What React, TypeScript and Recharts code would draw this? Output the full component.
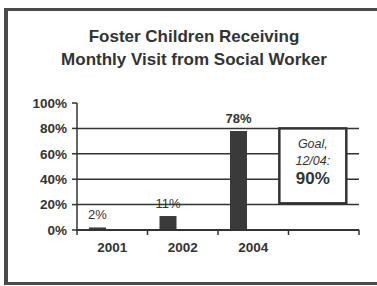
import React from 'react';
import { BarChart, Bar, XAxis, YAxis, CartesianGrid, LabelList, ReferenceArea } from 'recharts';

const TITLE_LINES = ['Foster Children Receiving', 'Monthly Visit from Social Worker'];
const CATEGORIES = ['2001', '2002', '2004', ' '];
const VISIT_PCT: (number | null)[] = [2, 11, 78, null];
const SPACER: (number | null)[] = [null, null, null, null];
const Y_TICKS = [0, 20, 40, 60, 80, 100];
const GRID_VALUES = [20, 40, 60, 80];
const GOAL_CATEGORY = ' ';
const GOAL_LINES = ['Goal,', '12/04:'];
const GOAL_VALUE = '90%';
const GOAL_RANGE = { y1: 21, y2: 80 };

const data = CATEGORIES.map((c, i) => ({ cat: c, pct: VISIT_PCT[i], spacer: SPACER[i] }));

const FONT = '"Liberation Sans", Arial, Helvetica, sans-serif';
const INK = '#333';

const renderLabel = (props: any) => {
  const { x, y, width, value, index } = props;
  if (value == null) return null;
  const bold = index === 2;
  return (
    <text
      x={x + width / 2}
      y={y - 8}
      textAnchor="middle"
      fontFamily={FONT}
      fontSize={13}
      fontWeight={bold ? 'bold' : 'normal'}
      fill={INK}
    >
      {value + '%'}
    </text>
  );
};

const XTick = (props: any) => {
  const { x, y, payload, width, visibleTicksCount, index } = props;
  const bw = width / visibleTicksCount;
  const last = index === visibleTicksCount - 1;
  return (
    <g>
      <line x1={x - bw / 2} x2={x - bw / 2} y1={y} y2={y + 5} stroke={INK} strokeWidth={1.5} />
      {last && <line x1={x + bw / 2} x2={x + bw / 2} y1={y} y2={y + 5} stroke={INK} strokeWidth={1.5} />}
      <text
        x={x}
        y={y + 22}
        textAnchor="middle"
        fontFamily={FONT}
        fontWeight="bold"
        fontSize={13.5}
        fill={INK}
      >
        {payload.value}
      </text>
    </g>
  );
};

const GoalShape = (props: any) => {
  const { x, y, width, height } = props;
  const bx = x - width * 0.13;
  const bw = width * 0.95;
  const cx = bx + bw / 2;
  return (
    <g>
      <rect x={bx} y={y} width={bw} height={height} fill="#fff" stroke={INK} strokeWidth={2.5} />
      {GOAL_LINES.map((t, i) => (
        <text
          key={t}
          x={cx}
          y={y + 16 + i * 17}
          textAnchor="middle"
          dominantBaseline="central"
          fontFamily={FONT}
          fontStyle="italic"
          fontSize={12.5}
          fill={INK}
        >
          {t}
        </text>
      ))}
      <text
        x={cx}
        y={y + 50}
        textAnchor="middle"
        dominantBaseline="central"
        fontFamily={FONT}
        fontWeight="bold"
        fontSize={17}
        fill={INK}
      >
        {GOAL_VALUE}
      </text>
    </g>
  );
};

export default function App() {
  return (
    <div style={{ position: 'absolute', left: 0, top: 0, width: 377, height: 286, background: '#fff', overflow: 'hidden' }}>
      <div
        style={{
          position: 'absolute',
          left: 4,
          top: 8,
          width: 390,
          height: 277,
          boxSizing: 'border-box',
          border: '3px solid #4a4a4a',
          borderLeftWidth: 4,
          borderRight: 'none',
        }}
      />
      <div
        style={{
          position: 'absolute',
          left: 0,
          top: 25,
          width: 388,
          textAlign: 'center',
          fontFamily: FONT,
          fontWeight: 'bold',
          fontSize: 17,
          lineHeight: '23px',
          color: INK,
        }}
      >
        {TITLE_LINES.map((t) => (
          <div key={t}>{t}</div>
        ))}
      </div>
      <div style={{ position: 'absolute', left: 0, top: 0 }}>
        <BarChart
          width={377}
          height={286}
          data={data}
          margin={{ top: 103, right: 18, bottom: 26, left: 17 }}
          barSize={17}
          barGap={12.5}
        >
          <CartesianGrid
            vertical={false}
            horizontalValues={GRID_VALUES}
            stroke={INK}
            strokeWidth={1.5}
          />
          <XAxis
            dataKey="cat"
            tickLine={false}
            axisLine={{ stroke: INK, strokeWidth: 2 }}
            height={30}
            tickSize={0}
            tickMargin={0}
            interval={0}
            tick={<XTick />}
          />
          <YAxis
            width={60}
            domain={[0, 100]}
            ticks={Y_TICKS}
            tickFormatter={(v: number) => v + '%'}
            tickSize={5}
            tickMargin={5}
            axisLine={{ stroke: INK, strokeWidth: 1.5 }}
            tickLine={{ stroke: INK, strokeWidth: 1.5 }}
            tick={{ fontFamily: FONT, fontWeight: 'bold', fontSize: 13.5, fill: INK }}
          />
          <ReferenceArea
            x1={GOAL_CATEGORY}
            x2={GOAL_CATEGORY}
            y1={GOAL_RANGE.y1}
            y2={GOAL_RANGE.y2}
            shape={GoalShape}
          />
          <Bar dataKey="pct" fill="#3a3a3a" isAnimationActive={false}>
            <LabelList dataKey="pct" content={renderLabel} />
          </Bar>
          <Bar dataKey="spacer" fill="none" isAnimationActive={false} />
        </BarChart>
      </div>
    </div>
  );
}
